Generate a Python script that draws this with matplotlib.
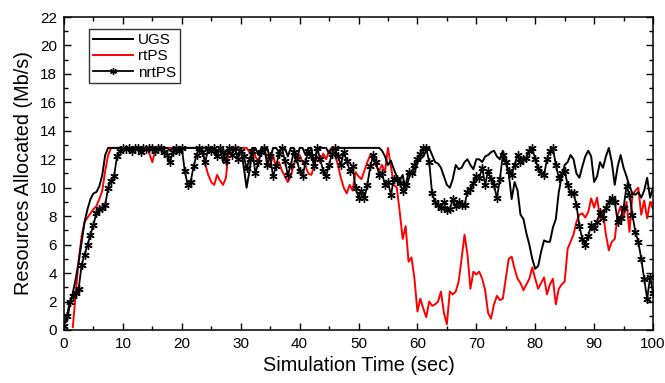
import numpy as np
import matplotlib
matplotlib.use("Agg")
import matplotlib.pyplot as plt
from matplotlib.ticker import MultipleLocator

time_s = np.arange(0, 100.5, 0.5)

ugs = [0.5, 0.6, 1.8, 2.6, 3.6, 4.8, 6.2, 7.6, 8.5, 9.2, 9.6, 9.7, 10.1, 10.9, 12.3, 12.8, 12.8, 12.8, 12.8, 12.8, 12.8,
       12.8, 12.8, 12.8, 12.8, 12.8, 12.8, 12.8, 12.8, 12.8, 12.8, 12.8, 12.8, 12.8, 12.8, 12.8, 12.6, 12.8, 12.8, 12.8, 12.8,
       12.8, 12.8, 12.8, 12.8, 12.8, 12.8, 12.8, 12.8, 12.8, 12.8, 12.8, 12.5, 12.8, 11.8, 12.6, 12.8, 12.8, 12.8, 12.2, 12.8,
       11.5, 10.0, 11.2, 12.8, 12.8, 12.3, 12.8, 12.8, 12.8, 12.0, 12.8, 12.8, 12.5, 12.8, 12.8, 12.2, 12.8, 12.8, 11.8, 12.8,
       12.8, 12.3, 12.8, 12.8, 11.5, 12.8, 12.8, 12.8, 12.8, 12.4, 12.8, 12.8, 12.8, 12.8, 12.8, 12.8, 12.8, 12.8, 12.8, 12.8,
       12.8, 12.8, 12.8, 12.8, 12.8, 12.8, 12.8, 12.6, 12.2, 11.6, 11.9, 11.3, 10.8, 10.5, 10.9, 9.8, 10.6, 11.2, 11.0, 11.8,
       12.0, 12.2, 12.6, 12.8, 12.3, 11.8, 11.7, 11.4, 10.8, 10.2, 10.0, 10.6, 11.6, 11.3, 11.4, 11.8, 12.0, 11.6, 11.3, 12.0,
       12.0, 11.8, 12.2, 12.3, 12.5, 12.6, 12.2, 12.0, 12.6, 11.8, 11.0, 9.2, 10.4, 9.8, 8.1, 7.8, 6.8, 6.0, 5.0, 4.3,
       4.5, 5.5, 6.3, 6.2, 6.2, 7.2, 7.8, 9.7, 10.8, 11.6, 11.8, 12.3, 12.0, 11.0, 10.7, 11.5, 12.2, 12.6, 12.2, 10.4,
       10.8, 11.8, 11.4, 12.2, 12.8, 11.8, 10.2, 11.5, 12.3, 11.4, 10.8, 10.1, 9.6, 9.5, 9.7, 9.3, 9.8, 10.7, 9.3, 10.0]

nan = np.nan
rtps = [nan, nan, nan, 0.2, 2.6, 4.9, 6.6, 7.6, 7.9, 8.2, 8.5, 8.7, 9.2, 9.8, 11.2, 12.3, 12.8, 12.8, 12.8, 12.8, 12.8,
        12.8, 12.8, 12.8, 12.8, 12.8, 12.8, 12.8, 12.8, 12.4, 11.8, 12.6, 12.8, 12.8, 12.8, 12.8, 12.8, 12.8, 12.8, 12.8, 12.8,
        12.8, 12.8, 12.8, 12.8, 12.8, 12.8, 12.6, 11.6, 10.9, 10.4, 10.2, 10.9, 10.5, 10.2, 10.7, 12.8, 12.8, 12.8, 12.8, 12.8,
        12.8, 12.8, 12.5, 12.8, 12.2, 11.8, 12.6, 12.8, 12.0, 11.5, 12.3, 11.4, 11.8, 11.2, 10.8, 10.4, 10.8, 11.6, 12.3, 12.3,
        11.8, 11.5, 11.0, 10.9, 11.6, 12.2, 11.8, 12.4, 12.0, 12.6, 12.8, 12.3, 11.6, 10.7, 10.0, 9.6, 10.2, 9.8, 11.1, 10.8,
        10.6, 11.2, 11.8, 12.3, 12.0, 11.5, 11.2, 11.6, 11.1, 12.8, 11.5, 10.2, 10.0, 8.3, 6.4, 7.3, 4.8, 5.1, 3.6, 1.3,
        2.2, 1.5, 0.9, 2.0, 1.7, 1.8, 2.0, 2.7, 1.2, 0.4, 2.7, 2.5, 2.7, 3.4, 5.0, 6.7, 5.3, 2.9, 4.1, 3.9,
        4.1, 3.6, 2.8, 1.2, 0.8, 1.8, 2.4, 2.1, 2.2, 3.6, 5.0, 5.15, 4.3, 3.6, 3.3, 2.8, 3.2, 3.6, 4.4, 3.6,
        2.9, 3.3, 3.7, 2.5, 3.2, 3.6, 1.8, 2.9, 3.2, 3.4, 5.7, 6.2, 6.7, 7.6, 8.1, 8.2, 7.9, 8.3, 9.25, 8.6,
        9.3, 7.85, 8.3, 6.7, 5.6, 6.2, 6.4, 8.1, 8.7, 7.9, 9.0, 6.9, 9.5, 9.8, 10.0, 8.1, 9.1, 7.85, 9.0, 8.5]

nrtps = [0.3, 1.0, 2.0, 2.4, 2.6, 2.9, 4.6, 5.3, 6.0, 6.7, 7.4, 8.2, 8.5, 8.6, 8.8, 10.0, 10.5, 10.8, 12.2, 12.6, 12.8,
         12.7, 12.8, 12.6, 12.8, 12.8, 12.5, 12.8, 12.7, 12.8, 12.8, 12.6, 12.8, 12.8, 12.5, 12.3, 11.8, 12.5, 12.8, 12.6, 12.8,
         11.2, 10.2, 10.4, 11.5, 12.3, 12.8, 12.5, 11.8, 12.8, 12.6, 12.8, 12.2, 12.8, 12.5, 11.9, 12.8, 12.3, 12.8, 12.0, 12.6,
         12.2, 11.4, 12.0, 12.6, 11.0, 11.8, 12.5, 12.8, 11.6, 12.2, 10.8, 11.5, 12.4, 12.8, 11.9, 10.9, 11.6, 12.5, 12.0, 11.2,
         10.8, 11.8, 12.6, 12.2, 11.5, 12.8, 12.0, 11.2, 10.8, 11.6, 12.4, 12.8, 12.2, 11.6, 12.5, 11.9, 11.2, 11.5, 10.0, 9.3,
         9.8, 9.25, 10.2, 11.5, 12.3, 11.8, 10.9, 11.0, 10.2, 10.4, 9.5, 10.6, 10.6, 10.3, 9.8, 10.2, 11.1, 11.0, 11.6, 12.0,
         12.4, 12.8, 12.8, 11.8, 9.6, 9.0, 8.8, 8.6, 9.0, 8.4, 8.5, 9.2, 8.7, 9.0, 8.8, 8.8, 9.7, 9.9, 10.3, 10.8,
         10.7, 11.4, 10.2, 11.2, 10.6, 10.2, 9.25, 10.6, 12.3, 11.8, 11.2, 10.9, 11.6, 12.3, 11.8, 12.0, 12.1, 12.6, 12.8, 12.0,
         11.4, 11.0, 10.9, 12.0, 12.6, 12.8, 11.6, 10.7, 11.0, 11.2, 10.2, 9.6, 9.6, 8.8, 7.3, 6.4, 6.0, 6.6, 7.4, 7.2,
         7.6, 8.3, 7.85, 8.6, 9.0, 9.25, 9.0, 7.6, 7.85, 8.6, 10.1, 9.5, 8.1, 6.9, 6.2, 5.0, 3.6, 2.2, 3.7, 2.6]

assert len(ugs) == len(time_s) and len(rtps) == len(time_s) and len(nrtps) == len(time_s)

series_labels = ["UGS", "rtPS", "nrtPS"]
x_ticks = [0, 10, 20, 30, 40, 50, 60, 70, 80, 90, 100]
y_ticks = [0, 2, 4, 6, 8, 10, 12, 14, 16, 18, 20, 22]

plt.rcParams['font.family'] = ['Liberation Sans', 'DejaVu Sans']

fig = plt.figure(figsize=(6.65, 3.83), dpi=100)
ax = fig.add_axes([0.0962, 0.1384, 0.8858, 0.8172])

ax.plot(time_s, ugs, color='black', lw=1.4, label=series_labels[0], zorder=3)
ax.plot(time_s, rtps, color='#ff0000', lw=1.4, label=series_labels[1], zorder=2)
ax.plot(time_s, nrtps, color='black', lw=1.3, marker=(6, 2, 0), markersize=6,
        markeredgewidth=1.0, label=series_labels[2], zorder=4)

ax.set_xlim(0, 100)
ax.set_ylim(0, 22)
ax.set_xticks(x_ticks)
ax.set_yticks(y_ticks)
ax.xaxis.set_minor_locator(MultipleLocator(5))
ax.yaxis.set_minor_locator(MultipleLocator(1))
ax.tick_params(which='both', direction='in', top=True, right=True, width=1.0)
ax.tick_params(which='major', length=5, labelsize=11, pad=5)
ax.tick_params(which='minor', length=3)
for s in ax.spines.values():
    s.set_linewidth(1.1)

ax.set_xlabel("Simulation Time (sec)", fontsize=14.3, labelpad=4)
ax.set_ylabel("Resources Allocated (Mb/s)", fontsize=14.3, labelpad=5)

leg = ax.legend(loc='upper left', bbox_to_anchor=(0.043, 0.961), fontsize=11, frameon=True,
                fancybox=False, edgecolor='black', handlelength=2.6, handletextpad=0.35,
                borderpad=0.25, labelspacing=0.15, borderaxespad=0.0, markerscale=0.8)
leg.get_frame().set_linewidth(1.0)

fig.savefig("out.png", dpi=100)
